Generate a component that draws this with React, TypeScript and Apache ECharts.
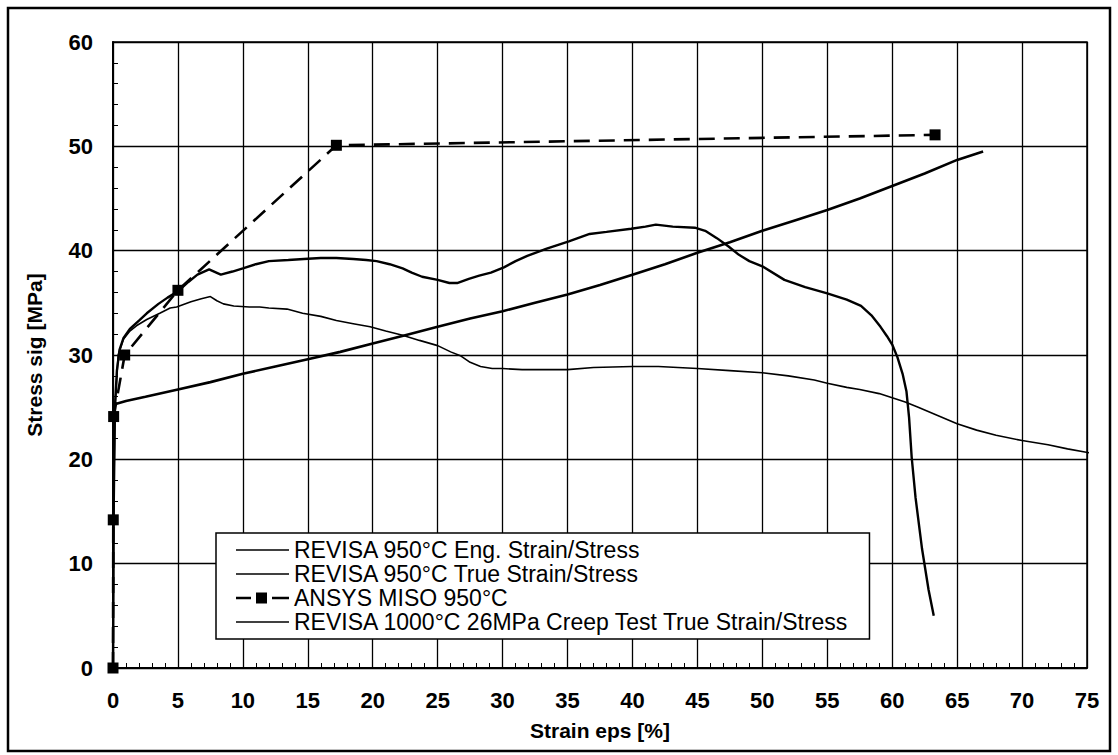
import React, { useEffect, useRef } from "react";
import * as echarts from "echarts";

const seriesNames = [
  "REVISA 950°C Eng. Strain/Stress",
  "REVISA 950°C True Strain/Stress",
  "ANSYS MISO 950°C",
  "REVISA 1000°C 26MPa Creep Test True Strain/Stress",
];

const xTicks = [0, 5, 10, 15, 20, 25, 30, 35, 40, 45, 50, 55, 60, 65, 70, 75];
const yTicks = [0, 10, 20, 30, 40, 50, 60];

const engCurve: [number, number][] = [
  [0, 0], [0.05, 15], [0.15, 25], [0.4, 30], [0.8, 31.5], [1.3, 32.3], [1.8, 32.8],
  [2.6, 33.4], [3.6, 34.0], [4.4, 34.5], [4.9, 34.6], [6.0, 35.1], [6.8, 35.4],
  [7.5, 35.6], [8.0, 35.2], [8.5, 34.9], [9.3, 34.7], [10.5, 34.6], [11.3, 34.6],
  [12, 34.5], [13.4, 34.4], [14.6, 34.0], [16, 33.7], [17.2, 33.3], [18.5, 33.0],
  [19.8, 32.7], [21, 32.3], [22.3, 31.9], [23.6, 31.4], [25, 30.9], [26, 30.3],
  [26.8, 29.9], [27.5, 29.3], [28.3, 28.9], [29.2, 28.7], [30, 28.7], [31.5, 28.6],
  [33, 28.6], [35, 28.6], [37, 28.8], [40, 28.9], [42, 28.9], [45, 28.7],
  [47.5, 28.5], [50, 28.3], [52, 28.0], [54, 27.6], [55, 27.3], [56.5, 26.9],
  [57.5, 26.7], [59, 26.3], [60, 25.9], [61, 25.5], [62, 25.0], [63.5, 24.2],
  [65, 23.4], [66.5, 22.8], [68, 22.3], [70, 21.8], [72, 21.4], [73.5, 21.0],
  [75.3, 20.6],
];

const trueCurve: [number, number][] = [
  [0, 0], [0.05, 15], [0.15, 25], [0.3, 28.5], [0.5, 30.5], [0.8, 31.6], [1.3, 32.5],
  [2.0, 33.3], [2.6, 34.0], [3.5, 34.9], [4.2, 35.5], [5, 36.1], [5.8, 37.0],
  [6.5, 37.7], [7.4, 38.2], [8.3, 37.7], [9.2, 38.0], [10, 38.3], [11, 38.7],
  [12, 39.0], [13.5, 39.1], [14.7, 39.2], [16, 39.3], [17.2, 39.3], [18.5, 39.2],
  [19.5, 39.1], [20.3, 39.0], [21.3, 38.7], [22.3, 38.3], [23, 37.9], [23.8, 37.5],
  [25, 37.2], [25.9, 36.9], [26.5, 36.9], [27.4, 37.3], [28.2, 37.6], [29.1, 37.9],
  [30.1, 38.4], [31, 39.0], [31.9, 39.5], [33.4, 40.2], [35.1, 40.9], [36.7, 41.6],
  [38, 41.8], [39.9, 42.1], [41, 42.3], [41.8, 42.5], [43.1, 42.3], [44.8, 42.2],
  [45.6, 41.9], [46.5, 41.2], [47.4, 40.4], [48.2, 39.6], [49, 39.0], [50, 38.5],
  [51.7, 37.2], [53.3, 36.5], [55, 35.9], [56.5, 35.3], [57.6, 34.7], [58.4, 33.8],
  [59.1, 32.7], [59.6, 31.8], [60, 31.0], [60.4, 29.8], [60.8, 28.2], [61.1, 26.5],
  [61.3, 24], [61.5, 20.2], [61.8, 16.3], [62.3, 11.4], [62.8, 7.5], [63.2, 5.0],
];

const ansysMiso: [number, number][] = [
  [0, 0], [0.02, 14.2], [0.05, 24.1], [0.9, 30], [5, 36.2], [17.2, 50.1], [63.3, 51.1],
];

const creepCurve: [number, number][] = [
  [0.2, 25.3], [1, 25.6], [2.5, 26.0], [5, 26.7], [7.5, 27.4], [10, 28.2],
  [12.5, 28.9], [15, 29.6], [17.5, 30.3], [20, 31.1], [22.5, 31.9], [25, 32.7],
  [27.5, 33.5], [30, 34.2], [32.5, 35.0], [35, 35.8], [37.5, 36.7], [40, 37.7],
  [42.5, 38.7], [45, 39.8], [47.5, 40.8], [50, 41.9], [52.5, 42.9], [55, 43.9],
  [57.5, 45.0], [60, 46.2], [62.5, 47.4], [65, 48.7], [67, 49.5],
];

const FONT = "'Liberation Sans', Arial, sans-serif";
const SOLID_ICON = "path://M0 5.2h53v1.6H0z";
const MISO_ICON = "path://M0 4.8h15v2.4H0z M20 0.5h11v11H20z M36 4.8h17v2.4H36z";

export default function App() {
  const ref = useRef<HTMLDivElement>(null);

  useEffect(() => {
    if (!ref.current) return;
    const chart = echarts.init(ref.current, undefined, { renderer: "svg" });
    const axisLabelStyle = {
      color: "#000",
      fontFamily: FONT,
      fontWeight: "bold" as const,
      fontSize: 22,
    };
    chart.setOption({
      animation: false,
      backgroundColor: "#fff",
      grid: {
        left: 113,
        top: 42,
        right: 31,
        bottom: 87,
        show: true,
        borderColor: "#000",
        borderWidth: 1.5,
        containLabel: false,
      },
      legend: {
        orient: "vertical",
        left: 216,
        top: 533,
        padding: [5, 20, 5, 20],
        itemGap: 0,
        itemWidth: 53,
        itemHeight: 12,
        backgroundColor: "#fff",
        borderColor: "#000",
        borderWidth: 1.5,
        borderRadius: 0,
        data: [
          { name: seriesNames[0], icon: SOLID_ICON },
          { name: seriesNames[1], icon: SOLID_ICON },
          { name: seriesNames[2], icon: MISO_ICON },
          { name: seriesNames[3], icon: SOLID_ICON },
        ],
        itemStyle: { color: "#000", borderWidth: 0 },
        lineStyle: { width: 0 },
        textStyle: {
          color: "#000",
          fontFamily: FONT,
          fontSize: 23,
          lineHeight: 24,
        },
      },
      xAxis: {
        type: "value",
        min: xTicks[0],
        max: xTicks[xTicks.length - 1],
        interval: 5,
        name: "Strain eps [%]",
        nameLocation: "middle",
        nameGap: 52,
        nameTextStyle: { ...axisLabelStyle, fontSize: 21 },
        axisLine: { show: true, onZero: false, lineStyle: { color: "#000", width: 2 } },
        axisTick: { show: true, inside: true, length: 5, lineStyle: { color: "#000", width: 1 } },
        minorTick: { show: true, splitNumber: 5, length: 5, lineStyle: { color: "#000", width: 1 } },
        axisLabel: { ...axisLabelStyle, margin: 21 },
        splitLine: { show: true, lineStyle: { color: "#000", width: 1.3 } },
      },
      yAxis: {
        type: "value",
        min: yTicks[0],
        max: yTicks[yTicks.length - 1],
        interval: 10,
        name: "Stress sig [MPa]",
        nameLocation: "middle",
        nameGap: 68,
        nameTextStyle: { ...axisLabelStyle, fontSize: 21 },
        axisLine: { show: true, onZero: false, lineStyle: { color: "#000", width: 2 } },
        axisTick: { show: true, inside: true, length: 5, lineStyle: { color: "#000", width: 1 } },
        minorTick: { show: true, splitNumber: 5, length: 5, lineStyle: { color: "#000", width: 1 } },
        axisLabel: { ...axisLabelStyle, margin: 20 },
        splitLine: { show: true, lineStyle: { color: "#000", width: 1.3 } },
      },
      graphic: [
        {
          type: "rect",
          shape: { x: 8, y: 8, width: 1102, height: 743 },
          style: { fill: "none", stroke: "#000", lineWidth: 2.5 },
          silent: true,
          z: 100,
        },
      ],
      series: [
        {
          name: seriesNames[0],
          type: "line",
          data: engCurve,
          showSymbol: false,
          symbol: "none",
          clip: false,
          lineStyle: { color: "#000", width: 1.6 },
          itemStyle: { color: "#000" },
        },
        {
          name: seriesNames[1],
          type: "line",
          data: trueCurve,
          showSymbol: false,
          symbol: "none",
          clip: false,
          lineStyle: { color: "#000", width: 2.4 },
          itemStyle: { color: "#000" },
        },
        {
          name: seriesNames[2],
          type: "line",
          data: ansysMiso,
          symbol: "rect",
          symbolSize: 11,
          clip: false,
          lineStyle: { color: "#000", width: 2.6, type: [16, 9] },
          itemStyle: { color: "#000" },
          z: 3,
        },
        {
          name: seriesNames[3],
          type: "line",
          data: creepCurve,
          showSymbol: false,
          symbol: "none",
          clip: false,
          lineStyle: { color: "#000", width: 2.6 },
          itemStyle: { color: "#000" },
        },
      ],
    });
    return () => chart.dispose();
  }, []);

  return (
    <div
      ref={ref}
      style={{ position: "absolute", left: 0, top: 0, width: 1118, height: 755, background: "#fff" }}
    />
  );
}
